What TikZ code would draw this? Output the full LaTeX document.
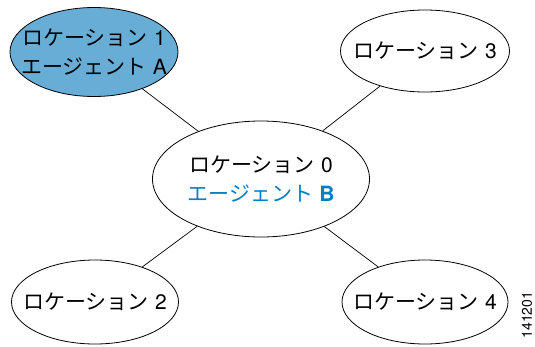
\documentclass[tikz,border=0pt]{standalone}
\usepackage{fontspec}
\setmainfont{Noto Sans CJK JP}
\newfontfamily\helv{TeX Gyre Heros}
\usetikzlibrary{shapes.geometric}
\definecolor{locfill}{RGB}{104,173,214}
\definecolor{agentblue}{RGB}{0,128,196}
\tikzset{
  loc/.style={ellipse, draw=black, line width=0.8pt, inner sep=0pt},
  loctext/.style={align=center, inner sep=0pt, font=\fontsize{21}{29}\selectfont},
  link/.style={draw=black, line width=0.7pt}
}
\newcommand{\lat}[1]{\hspace{0.3em}{\helv #1}}
\begin{document}
\begin{tikzpicture}[x=1pt,y=-1pt]
\useasboundingbox (0,0) rectangle (535,346);
\node[loc, fill=locfill, minimum width=168pt, minimum height=89pt] (l1) at (94,52) {};
\node[loctext] (t1) at (l1.center) {ロケーション\lat{1}\\エージェント\lat{A}};
\node[loc, minimum width=169pt, minimum height=82pt] (l3) at (425,51) {};
\node[loctext] (t3) at (l3.center) {ロケーション\lat{3}};
\node[loc, minimum width=217pt, minimum height=116pt] (l0) at (261,179) {};
\node[loctext] (t0) at (l0.center) {ロケーション\lat{0}\\\textcolor{agentblue}{エージェント\lat{\bfseries B}}};
\node[loc, minimum width=167pt, minimum height=84pt] (l2) at (95,302) {};
\node[loctext] (t2) at (l2.center) {ロケーション\lat{2}};
\node[loc, minimum width=166pt, minimum height=84pt] (l4) at (425,302) {};
\node[loctext] (t4) at (l4.center) {ロケーション\lat{4}};
\draw[link] (l1) -- (l0);
\draw[link] (l3) -- (l0);
\draw[link] (l2) -- (l0);
\draw[link] (l4) -- (l0);
\node[rotate=90, font=\helv\fontsize{14}{16}\selectfont, inner sep=0pt] (id) at (527,315) {141201};
\end{tikzpicture}
\end{document}
